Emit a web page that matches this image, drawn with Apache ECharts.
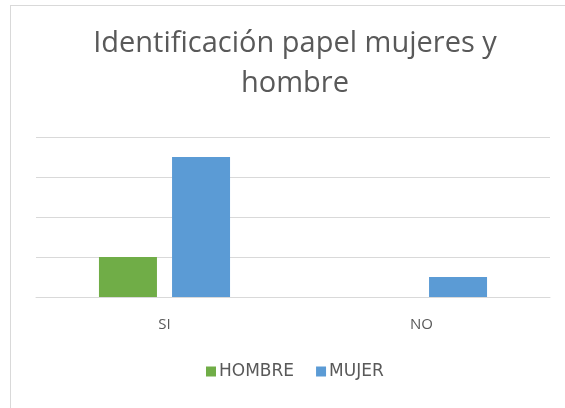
<!DOCTYPE html>
<html>
<head>
<meta charset="utf-8">
<script src="https://cdn.jsdelivr.net/npm/echarts@6/dist/echarts.min.js"></script>
<style>
html,body{margin:0;padding:0;background:#fff;}
#frame{position:absolute;left:10px;top:5px;width:565px;height:408px;border-top:1px solid #d9d9d9;border-left:1px solid #d9d9d9;box-sizing:border-box;}
#chart{position:absolute;left:0;top:0;width:565px;height:408px;}
</style>
</head>
<body>
<div id="frame"></div>
<div id="chart"></div>
<script>
const titleText = 'Identificación papel mujeres y\nhombre';
const categories = ['SI', 'NO'];
const seriesNames = ['HOMBRE', 'MUJER'];
const hombre = [1, 0];
const mujer = [3.5, 0.5];
const colors = ['#70AD47', '#5B9BD5'];

const chart = echarts.init(document.getElementById('chart'));
chart.setOption({
  animation: false,
  title: {
    text: titleText,
    left: 290,
    textAlign: 'center',
    top: 19,
    textStyle: {
      fontFamily: 'Open Sans',
      fontWeight: 'normal',
      fontSize: 29,
      color: '#595959',
      lineHeight: 40
    }
  },
  legend: {
    data: seriesNames,
    bottom: 23,
    left: 201,
    itemWidth: 10,
    itemHeight: 10,
    itemGap: 22,
    icon: 'rect',
    textStyle: { fontFamily: 'DejaVu Sans', fontSize: 17, color: '#595959', padding: [0,0,0,-2] }
  },
  grid: { left: 36, right: 15, top: 137, bottom: 111 },
  xAxis: {
    type: 'category',
    data: categories,
    axisTick: { show: false },
    axisLine: { lineStyle: { color: '#d9d9d9' } },
    axisLabel: { margin: 20, fontFamily: 'Open Sans', fontSize: 15, color: '#595959' }
  },
  yAxis: {
    type: 'value',
    min: 0,
    max: 4,
    interval: 1,
    axisLabel: { show: false },
    axisLine: { show: false },
    axisTick: { show: false },
    splitLine: { lineStyle: { color: '#d9d9d9' } }
  },
  series: [
    { name: seriesNames[0], type: 'bar', data: hombre, barWidth: 58, barGap: '26%', itemStyle: { color: colors[0] } },
    { name: seriesNames[1], type: 'bar', data: mujer, barWidth: 58, barGap: '26%', itemStyle: { color: colors[1] } }
  ]
});
</script>
</body>
</html>
